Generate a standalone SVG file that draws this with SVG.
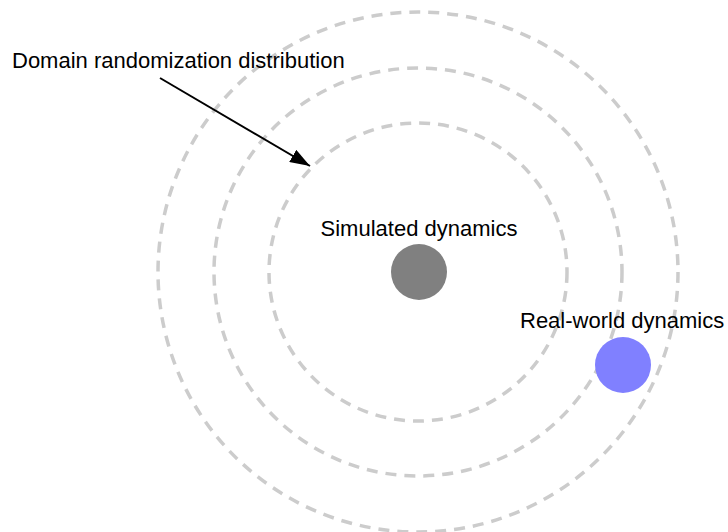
<svg xmlns="http://www.w3.org/2000/svg" width="728" height="532" viewBox="0 0 728 532">
<style>
.ring{fill:none;stroke:#cccccc;stroke-width:3.5;stroke-dasharray:11,8}
text{font-family:"Liberation Sans",Arial,sans-serif;font-size:22px;fill:#000}
</style>
<defs>
<marker id="ah2" viewBox="0 0 20 14" refX="20" refY="7" markerWidth="20" markerHeight="14" orient="auto" markerUnits="userSpaceOnUse"><path d="M0,0 L20,7 L0,14 Z" fill="#000"/></marker>
</defs>
<rect width="728" height="532" fill="#fff"/>
<g id="rings">
<circle class="ring" cx="418" cy="272" r="149"/>
<circle class="ring" cx="418" cy="272" r="204"/>
<circle class="ring" cx="418" cy="272" r="260"/>
</g>
<g id="connectors">
<line x1="160" y1="78" x2="310" y2="166" stroke="#000" stroke-width="2" marker-end="url(#ah2)"/>
</g>
<g id="label-domain"><text x="12" y="68">Domain randomization distribution</text></g>
<g id="sim"><circle cx="419" cy="272" r="28" fill="#808080"/><text x="419" y="236" text-anchor="middle">Simulated dynamics</text></g>
<g id="real"><circle cx="623" cy="365" r="28" fill="#8080ff"/><text x="520" y="328">Real-world dynamics</text></g>
</svg>
